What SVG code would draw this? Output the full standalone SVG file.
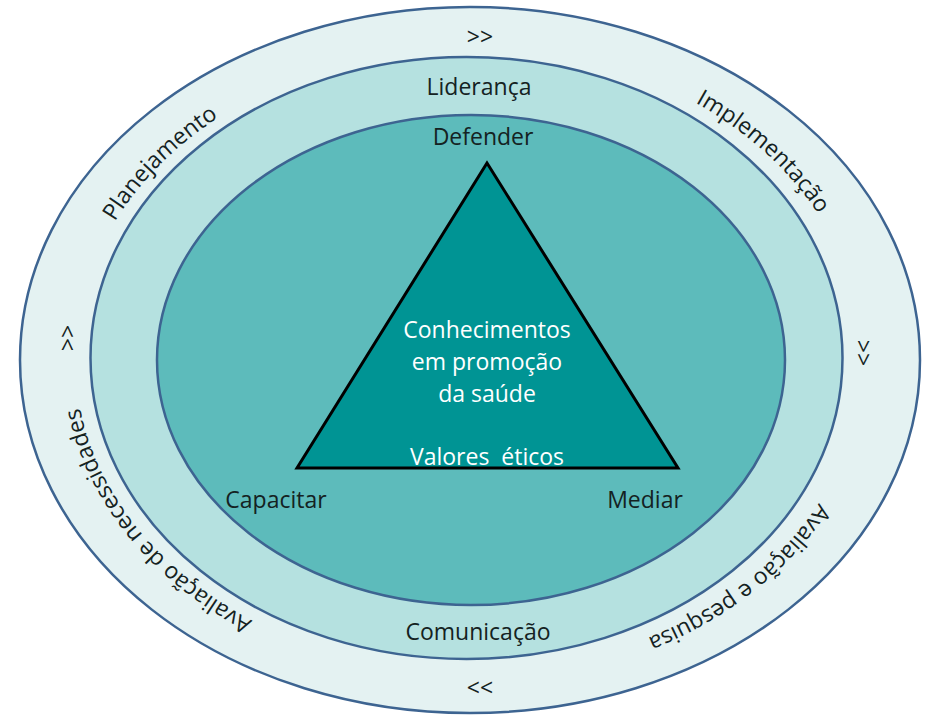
<svg xmlns="http://www.w3.org/2000/svg" width="926" height="720" viewBox="0 0 926 720">
<style>
.ring{stroke:#3D6491;stroke-width:2.5}
.t{font-family:"Open Sans","Noto Sans",sans-serif;font-size:23px;fill:#142222}
.c{text-anchor:middle}
.w{font-family:"Open Sans","Noto Sans",sans-serif;font-size:23px;fill:#ffffff;text-anchor:middle}
</style>
<defs>
<path id="pPlan" d="M88.8,441.1 A394,313 0 0 1 433.3,47.3"/>
<path id="pImpl" d="M484.1,46.2 A394,313 0 0 1 854.1,425.1"/>
<path id="pPesq" d="M859.2,315.4 A394,313 0 0 1 455.3,671.8"/>
<path id="pNec" d="M464.9,672 A394,313 0 0 1 129.9,199.7"/>
</defs>
<rect width="926" height="720" fill="#ffffff"/>
<g id="outer">
<ellipse class="ring" cx="470" cy="360" rx="450" ry="353" fill="#E4F2F2"/>
</g>
<g id="middle">
<ellipse class="ring" cx="466.5" cy="358" rx="376" ry="301" fill="#B5E1E0"/>
</g>
<g id="inner">
<ellipse class="ring" cx="471" cy="360" rx="314" ry="245" fill="#5DBBBB"/>
</g>
<g id="triangle">
<polygon points="487,163 297,468 678,468" fill="#009494" stroke="#000000" stroke-width="3" stroke-linejoin="miter"/>
<text class="w" x="487" y="338">Conhecimentos</text>
<text class="w" x="487" y="370">em promoção</text>
<text class="w" x="487" y="402">da saúde</text>
<text class="w" x="487" y="465" xml:space="preserve">Valores  éticos</text>
</g>
<g id="labels">
<text class="t c" x="480" y="45">&gt;&gt;</text>
<text class="t c" x="479" y="95">Liderança</text>
<text class="t c" x="483" y="145">Defender</text>
<text class="t c" x="276" y="508">Capacitar</text>
<text class="t c" x="645" y="508">Mediar</text>
<text class="t c" x="478" y="640">Comunicação</text>
<text class="t c" x="480" y="696">&lt;&lt;</text>
<text class="t c" transform="translate(76,338) rotate(-90)">&gt;&gt;</text>
<text class="t c" transform="translate(855,353) rotate(90)">&gt;&gt;</text>
</g>
<g id="curved">
<text class="t"><textPath href="#pPlan" startOffset="50%" text-anchor="middle">Planejamento</textPath></text>
<text class="t"><textPath href="#pImpl" startOffset="50%" text-anchor="middle">Implementação</textPath></text>
<text class="t"><textPath href="#pPesq" startOffset="50%" text-anchor="middle">Avaliação e pesquisa</textPath></text>
<text class="t"><textPath href="#pNec" startOffset="50%" text-anchor="middle">Avaliação de necessidades</textPath></text>
</g>
</svg>
